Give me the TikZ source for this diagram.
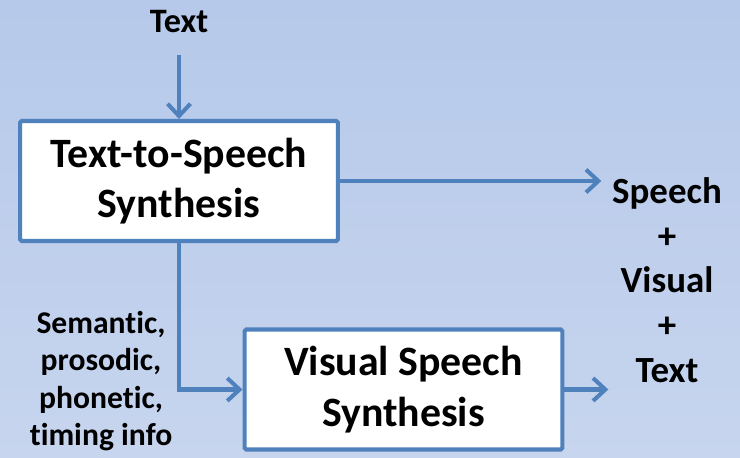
\documentclass[tikz,border=0pt]{standalone}
\usepackage{fontspec}
\setmainfont{Carlito}[Ligatures=NoCommon]
\usepackage{xcolor}
\usetikzlibrary{arrows.meta}
\usetikzlibrary{positioning}

\definecolor{lineblue}{RGB}{79,129,189}
\definecolor{bgtop}{RGB}{182,201,234}
\definecolor{bgbot}{RGB}{199,213,238}

\tikzset{
  block/.style={rectangle, draw=lineblue, fill=white, line width=2.3pt, rounded corners=1pt,
    minimum width=6.36cm, minimum height=2.4cm, align=center,
    font=\bfseries\fontsize{23.8}{28.6}\selectfont},
  flow/.style={draw=lineblue, line width=2.3pt,
    -{Straight Barb[length=7pt,width=13pt,line width=2.3pt]}},
}

\begin{document}
\begin{tikzpicture}[x=0.02cm, y=-0.02cm]
\useasboundingbox (0,0) rectangle (740,457);
\shade [top color=bgtop, bottom color=bgbot] (0,0) rectangle (740,457);

\node [block] (tts) at (179, 181) {Text-to-Speech\\Synthesis};
\node [block] (vis) at (403.5, 389.5) {Visual Speech\\Synthesis};
\node [font=\bfseries\fontsize{19.5}{23}\selectfont, inner sep=0pt] (txt) at (179, 22) {Text};
\node [align=center, inner sep=0pt, font=\bfseries\fontsize{21}{25.5}\selectfont] (out) at (667, 280) {Speech\\+\\Visual\\+\\Text};
\node [align=center, inner sep=0pt, font=\bfseries\fontsize{18}{21.3}\selectfont] (info) at (101, 381) {Semantic,\\prosodic,\\phonetic,\\timing info};

\draw [flow, shorten <=12pt] (txt) -- (tts);
\draw [flow, shorten >=6pt] (tts.east) -- (tts.east -| out.west);
\draw [flow] (tts.south) |- (vis.west);
\draw [flow, shorten >=2pt] (vis.east) -- (vis.east -| out.west);
\end{tikzpicture}
\end{document}
